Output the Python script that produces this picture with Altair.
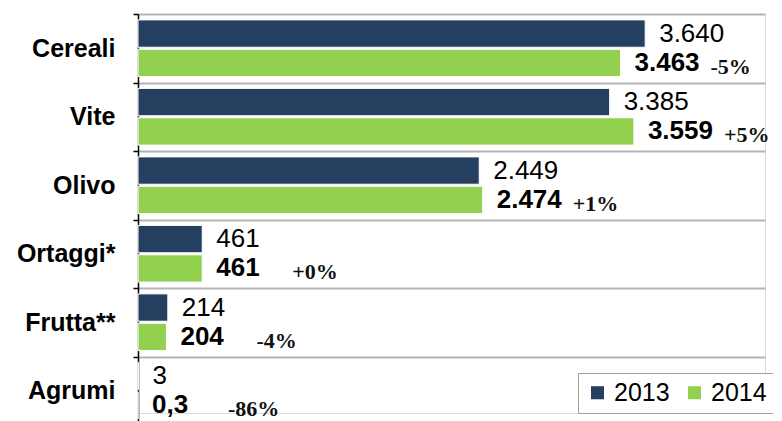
import altair as alt
import pandas as pd

categories = ["Cereali", "Vite", "Olivo", "Ortaggi*", "Frutta**", "Agrumi"]
years = ["2013", "2014"]
v2013 = [3640, 3385, 2449, 461, 214, 3]
v2014 = [3463, 3559, 2474, 461, 204, 0.3]
labels2013 = ["3.640", "3.385", "2.449", "461", "214", "3"]
labels2014 = ["3.463", "3.559", "2.474", "461", "204", "0,3"]
pct = ["-5%", "+5%", "+1%", "+0%", "-4%", "-86%"]

NAVY = "#253F60"
GREEN = "#92D050"
FONT = "Liberation Sans"

rows = []
for c, a, b, la, lb, p in zip(categories, v2013, v2014, labels2013, labels2014, pct):
    rows.append({"cat": c, "year": "2013", "value": a, "label": la, "pct": ""})
    rows.append({"cat": c, "year": "2014", "value": b, "label": lb, "pct": p})
df = pd.DataFrame(rows)

y_enc = alt.Y(
    "cat:N",
    sort=categories,
    scale=alt.Scale(domain=categories, range=[0, 411], paddingInner=0, paddingOuter=0),
    axis=alt.Axis(
        title=None,
        domain=True, domainColor="black", domainWidth=1.5,
        ticks=True, tickColor="black", tickSize=5, tickWidth=1.5,
        tickBand="extent",
        grid=True, gridColor="#B4B4B4", gridWidth=2,
        labelFont=FONT, labelFontSize=25, labelFontWeight="bold",
        labelColor="black", labelPadding=18,
    ),
)
yoff = alt.YOffset("year:N", scale=alt.Scale(domain=years, paddingInner=0.07, paddingOuter=0.2))
x_enc = alt.X("value:Q", scale=alt.Scale(domain=[0, 4500]), axis=None)

base = alt.Chart(df)

bars = base.mark_bar(stroke="white", strokeWidth=1).encode(
    y=y_enc,
    yOffset=yoff,
    x=x_enc,
    color=alt.Color(
        "year:N",
        scale=alt.Scale(domain=years, range=[NAVY, GREEN]),
        legend=alt.Legend(
            title=None, orient="none", legendX=440, legendY=359,
            direction="horizontal", symbolType="square", symbolSize=170,
            symbolStrokeWidth=0, labelFont=FONT, labelFontSize=25,
            labelColor="black", strokeColor="#A0A0A0", fillColor="white",
            padding=7, columnPadding=12, labelOffset=4,
        ),
    ),
)

t13 = base.transform_filter(alt.datum.year == "2013").mark_text(
    align="left", baseline="middle", dx=14, font=FONT, fontSize=26, color="black"
).encode(y=y_enc, yOffset=yoff, x=x_enc, text="label:N")

t14 = base.transform_filter(alt.datum.year == "2014").mark_text(
    align="left", baseline="middle", dx=14, font=FONT, fontSize=26,
    fontWeight="bold", color="black"
).encode(y=y_enc, yOffset=yoff, x=x_enc, text="label:N")

tp = base.transform_filter(alt.datum.year == "2014").mark_text(
    align="left", baseline="middle", dx=90, dy=4, font="Liberation Serif",
    fontSize=22, fontWeight="bold", color="#111111"
).encode(y=y_enc, yOffset=yoff, x=x_enc, text="pct:N")

chart = alt.layer(bars, t13, t14, tp).properties(
    width=627, height=399,
    autosize=alt.AutoSizeParams(type="none"),
    padding={"left": 130, "top": 6, "right": 8, "bottom": 8},
).configure_view(stroke=None).configure(background="white")

chart.save("out.html", embed_options={"renderer": "svg", "actions": False})
